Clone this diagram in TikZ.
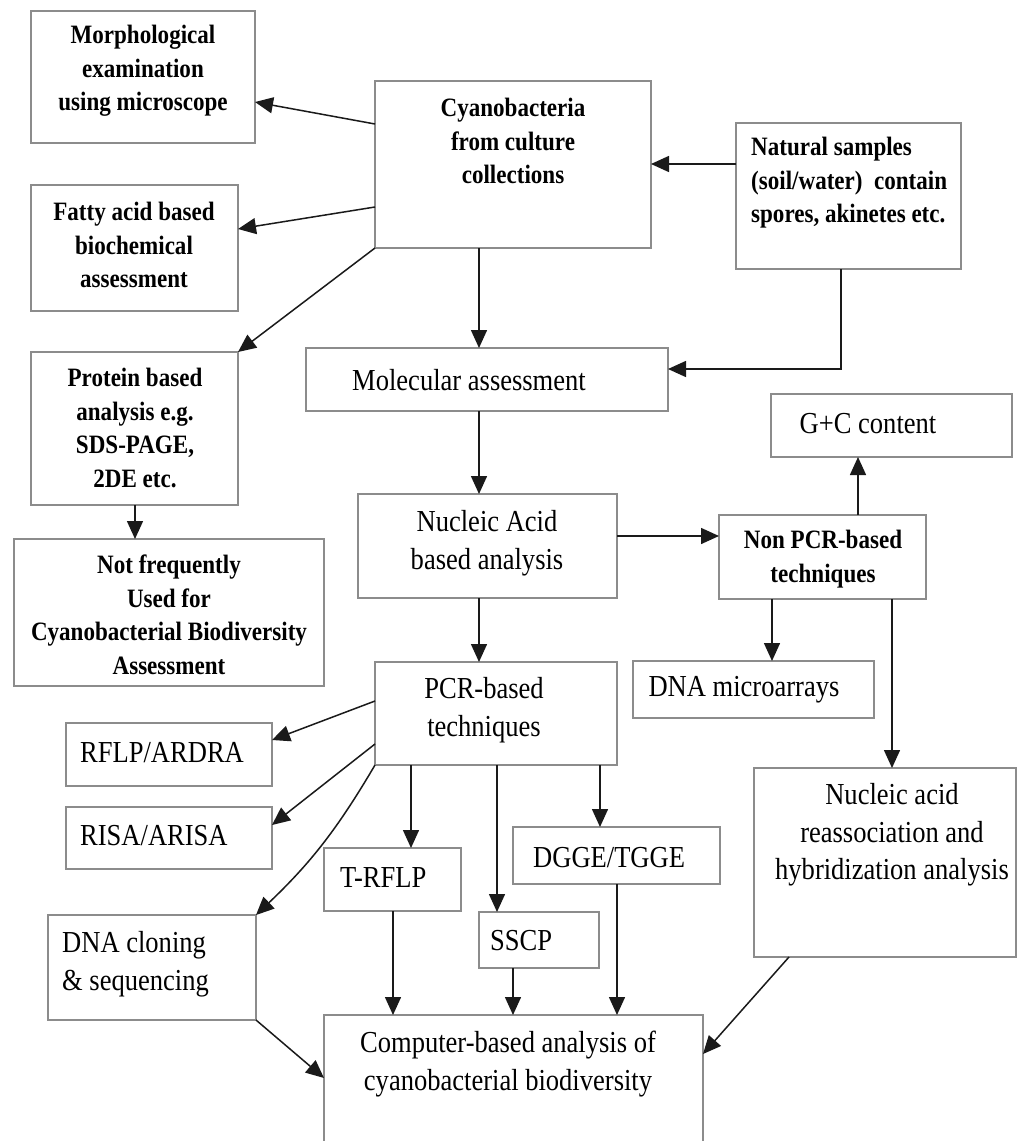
\documentclass[tikz,border=0pt]{standalone}
\usepackage{fontspec}
\setmainfont[FakeStretch=0.87]{Liberation Serif}
\usetikzlibrary{arrows.meta}
\definecolor{boxgray}{HTML}{8C8C8C}
\definecolor{arrblack}{HTML}{1A1A1A}
\newcommand\bx[5]{\node[box, minimum width={#4-#2}, minimum height={#5-#3}] (#1) at ({(#2+#4)/2},{(#3+#5)/2}) {};}
\begin{document}
\begin{tikzpicture}[x=1pt,y=-1pt,
  box/.style={draw=boxgray, line width=1.8pt, inner sep=0pt, outer sep=0pt, rectangle},
  rt/.style={font=\fontsize{30.5}{37.5}\selectfont, align=center, inner sep=0pt},
  bt/.style={font=\fontsize{26.5}{33.5}\selectfont\bfseries, align=center, inner sep=0pt},
  arr/.style={draw=arrblack, line width=1.5pt, -{Triangle[length=18pt,width=16pt]}}]
\clip (0,0) rectangle (1018,1141);
\fill[white] (0,0) rectangle (1018,1141);
% boxes
\bx{morph}{31}{11}{255}{143}
\bx{fatty}{31}{185}{238}{311}
\bx{cyano}{375}{81}{651}{248}
\bx{natural}{736}{123}{961}{269}
\bx{molec}{306}{348}{668}{411}
\bx{protein}{31}{352}{238}{505}
\bx{notfreq}{14}{539}{324}{686}
\bx{nucleic}{358}{494}{617}{598}
\bx{nonpcr}{719}{515}{926}{599}
\bx{gc}{771}{394}{1012}{457}
\bx{micro}{633}{661}{874}{718}
\bx{pcr}{375}{662}{617}{765}
\bx{rflp}{66}{723}{272}{786}
\bx{risa}{66}{807}{272}{869}
\bx{cloning}{48}{915}{256}{1020}
\bx{trflp}{324}{848}{461}{911}
\bx{sscp}{479}{912}{599}{968}
\bx{dgge}{513}{827}{720}{884}
\bx{reassoc}{754}{768}{1016}{957}
\bx{comp}{324}{1015}{703}{1200}
% texts
\node[bt] (morphT) at (143,71) {Morphological\\examination\\using microscope};
\node[bt] (fattyT) at (134,245) {Fatty acid based\\biochemical\\assessment};
\node[bt] (cyanoT) at (513,141) {Cyanobacteria\\from culture\\collections};
\node[bt, anchor=west, align=left] (naturalT) at (751,183) {Natural samples\\(soil/water)\ \ contain\\spores, akinetes etc.};
\node[bt] (proteinT) at (135,428) {Protein based\\analysis e.g.\\SDS-PAGE,\\2DE etc.};
\node[bt] (notfreqT) at (169,615) {Not frequently\\Used for\\Cyanobacterial Biodiversity\\Assessment};
\node[rt, anchor=west] (molecT) at (352,380) {Molecular assessment};
\node[rt] (nucleicT) at (487,543) {Nucleic Acid\\based analysis};
\node[bt] (nonpcrT) at (823,559) {Non PCR-based\\techniques};
\node[rt] (gcT) at (868,424) {G+C content};
\node[rt] (microT) at (744,690) {DNA microarrays};
\node[rt] (pcrT) at (484,710) {PCR-based\\techniques};
\node[rt, anchor=west] (rflpT) at (80,753) {RFLP/ARDRA};
\node[rt, anchor=west] (risaT) at (80,836) {RISA/ARISA};
\node[rt, anchor=west, align=left] (cloningT) at (62,964) {DNA cloning\\\&\ sequencing};
\node[rt, anchor=west] (trflpT) at (340,878) {T-RFLP};
\node[rt, anchor=west] (sscpT) at (490,941) {SSCP};
\node[rt, anchor=west] (dggeT) at (533,858) {DGGE/TGGE};
\node[rt] (reassocT) at (892,835) {Nucleic acid\\reassociation and\\hybridization analysis};
\node[rt] (compT) at (508,1064) {Computer-based analysis of\\cyanobacterial biodiversity};
% connectors
\draw[arr] (cyano.west |- 0,124) -- (morph.east |- 0,102);
\draw[arr] (cyano.west |- 0,207) -- (fatty.east |- 0,229);
\draw[arr] (cyano.south west) -- (protein.north east);
\draw[arr] (479,0 |- cyano.south) -- (479,0 |- molec.north);
\draw[arr] (natural.west |- 0,164) -- (cyano.east |- 0,164);
\draw[arr] (841,0 |- natural.south) |- (molec.east |- 0,369);
\draw[arr] (135,0 |- protein.south) -- (135,0 |- notfreq.north);
\draw[arr] (479,0 |- molec.south) -- (479,0 |- nucleic.north);
\draw[arr] (nucleic.east |- 0,536) -- (nonpcr.west |- 0,536);
\draw[arr] (858,0 |- nonpcr.north) -- (858,0 |- gc.south);
\draw[arr] (772,0 |- nonpcr.south) -- (772,0 |- micro.north);
\draw[arr] (892,0 |- nonpcr.south) -- (892,0 |- reassoc.north);
\draw[arr] (479,0 |- nucleic.south) -- (479,0 |- pcr.north);
\draw[arr] (pcr.west |- 0,701) -- (rflp.east |- 0,740);
\draw[arr] (pcr.west |- 0,744) -- (risa.east |- 0,825);
\draw[arr] (pcr.south west) to[bend left=8] (cloning.north east);
\draw[arr] (411,0 |- pcr.south) -- (411,0 |- trflp.north);
\draw[arr] (497,0 |- pcr.south) -- (497,0 |- sscp.north);
\draw[arr] (600,0 |- pcr.south) -- (600,0 |- dgge.north);
\draw[arr] (393,0 |- trflp.south) -- (393,0 |- comp.north);
\draw[arr] (513,0 |- sscp.south) -- (513,0 |- comp.north);
\draw[arr] (617,0 |- dgge.south) -- (617,0 |- comp.north);
\draw[arr] (cloning.south east) -- (comp.west |- 0,1078);
\draw[arr] (789,0 |- reassoc.south) -- (comp.east |- 0,1054);
\end{tikzpicture}
\end{document}
